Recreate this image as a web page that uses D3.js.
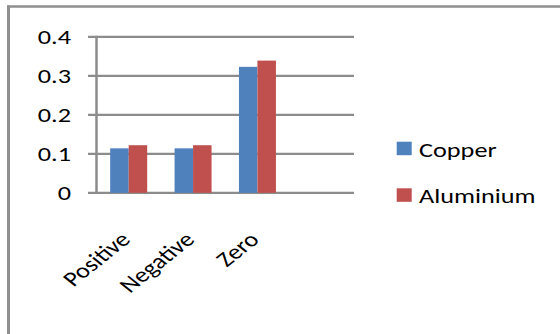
<!DOCTYPE html>
<html>
<head>
<meta charset="utf-8">
<script src="https://cdn.jsdelivr.net/npm/d3@7"></script>
<style>
  html, body { margin: 0; padding: 0; background: #fff; }
  svg { display: block; font-family: Carlito, Calibri, "Open Sans", "Noto Sans", sans-serif; }
</style>
</head>
<body>
<svg id="chart" width="560" height="334"></svg>
<script>
// Charge measurements per material
const categories = ["Positive", "Negative", "Zero"];
const seriesNames = ["Copper", "Aluminium"];
const copperValues = [0.114, 0.114, 0.323];
const aluminiumValues = [0.122, 0.122, 0.339];
const yTicks = [0, 0.1, 0.2, 0.3, 0.4];
const seriesColors = ["#4f81bd", "#c0504d"];

const fontSize = 21;
const stretchX = 1.25; // text is drawn slightly wide

const svg = d3.select("#chart");

// outer frame (top and left edges)
svg.append("line").attr("x1", 7).attr("x2", 560).attr("y1", 6.5).attr("y2", 6.5)
  .attr("stroke", "#8f8f8f").attr("stroke-width", 2.5);
svg.append("line").attr("x1", 8.5).attr("x2", 8.5).attr("y1", 5.5).attr("y2", 334)
  .attr("stroke", "#8f8f8f").attr("stroke-width", 3);

const plot = { left: 96.5, right: 354, top: 36.8, bottom: 192.8 };

// four slots: the last one stays empty
const x = d3.scaleBand()
  .domain([...categories, ""])
  .range([plot.left, plot.right])
  .paddingInner(0).paddingOuter(0);

const y = d3.scaleLinear().domain([0, 0.4]).range([plot.bottom, plot.top]);

const barWidth = 18.5;
const groupWidth = barWidth * seriesNames.length;

// horizontal gridlines with tick stubs to the left of the axis
svg.append("g").selectAll("line").data(yTicks).join("line")
  .attr("x1", plot.left - 8.5).attr("x2", plot.right)
  .attr("y1", d => y(d)).attr("y2", d => y(d))
  .attr("stroke", "#8c8c8c").attr("stroke-width", 2.2);

// vertical axis line
svg.append("line")
  .attr("x1", plot.left).attr("x2", plot.left)
  .attr("y1", y(0.4) - 1).attr("y2", y(0) + 1)
  .attr("stroke", "#8c8c8c").attr("stroke-width", 2.5);

// y tick labels
svg.append("g").selectAll("text").data(yTicks).join("text")
  .attr("transform", d => `translate(71,${y(d) + 7.6}) scale(${stretchX},1)`)
  .attr("text-anchor", "end")
  .attr("font-size", fontSize)
  .attr("fill", "#000")
  .text(d => d === 0 ? "0" : d3.format(".1f")(d));

// bars
const seriesData = [copperValues, aluminiumValues];
seriesData.forEach((vals, si) => {
  svg.append("g").selectAll("rect").data(vals).join("rect")
    .attr("x", (d, i) => x(categories[i]) + x.bandwidth() / 2 - groupWidth / 2 + si * barWidth)
    .attr("y", d => y(d))
    .attr("width", barWidth)
    .attr("height", d => y(0) - y(d))
    .attr("fill", seriesColors[si]);
});

// rotated category labels
svg.append("g").selectAll("text").data(categories).join("text")
  .attr("transform", d => `translate(${x(d) + x.bandwidth() / 2 + 3},${y(0) + 48}) scale(${stretchX},1) rotate(-45)`)
  .attr("text-anchor", "end")
  .attr("font-size", fontSize)
  .attr("fill", "#000")
  .text(d => d);

// legend
const legend = svg.append("g");
seriesNames.forEach((name, i) => {
  const base = 156.7 + i * 46.6;
  legend.append("rect")
    .attr("x", 396.7).attr("y", base - 15)
    .attr("width", 15).attr("height", 13.5)
    .attr("fill", seriesColors[i]);
  legend.append("text")
    .attr("transform", `translate(419,${base}) scale(${stretchX},1)`)
    .attr("font-size", fontSize)
    .attr("fill", "#000")
    .text(name);
});
</script>
</body>
</html>
